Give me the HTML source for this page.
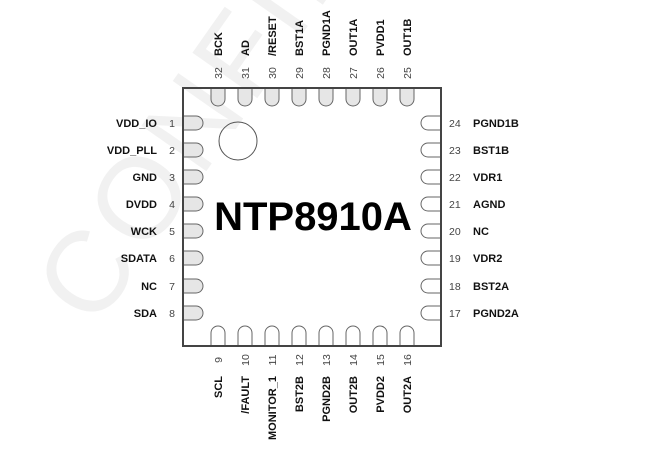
<!DOCTYPE html>
<html><head><style>
html,body{margin:0;padding:0;background:#fff;}
svg{display:block;}
.lb{font-family:"Liberation Sans",sans-serif;font-weight:bold;font-size:11px;fill:#111;}
.nm{font-family:"Liberation Sans",sans-serif;font-size:10.5px;fill:#444;}
</style></head><body>
<svg width="670" height="469" viewBox="0 0 670 469" xmlns="http://www.w3.org/2000/svg">
<text x="0" y="0" transform="translate(95,330) rotate(-55)" style="font-family:'Liberation Sans',sans-serif;font-size:115px;fill:#f1f1f1;letter-spacing:6px">CONFIDENTIAL</text>
<rect x="183" y="88" width="258" height="258" fill="none" stroke="#444" stroke-width="2"/>
<circle cx="238" cy="141" r="19" fill="none" stroke="#555" stroke-width="1"/>
<text x="313" y="230" text-anchor="middle" style="font-family:'Liberation Sans',sans-serif;font-weight:bold;font-size:40px;fill:#000">NTP8910A</text>
<g fill="#e6e6e6" stroke="#666" stroke-width="1">
<path d="M211,89V99A7,7 0 0 0 225,99V89"/>
<path d="M238,89V99A7,7 0 0 0 252,99V89"/>
<path d="M265,89V99A7,7 0 0 0 279,99V89"/>
<path d="M292,89V99A7,7 0 0 0 306,99V89"/>
<path d="M319,89V99A7,7 0 0 0 333,99V89"/>
<path d="M346,89V99A7,7 0 0 0 360,99V89"/>
<path d="M373,89V99A7,7 0 0 0 387,99V89"/>
<path d="M400,89V99A7,7 0 0 0 414,99V89"/>
<path d="M184,116H196A7,7 0 0 1 196,130H184"/>
<path d="M184,143H196A7,7 0 0 1 196,157H184"/>
<path d="M184,170H196A7,7 0 0 1 196,184H184"/>
<path d="M184,197H196A7,7 0 0 1 196,211H184"/>
<path d="M184,224H196A7,7 0 0 1 196,238H184"/>
<path d="M184,251H196A7,7 0 0 1 196,265H184"/>
<path d="M184,279H196A7,7 0 0 1 196,293H184"/>
<path d="M184,306H196A7,7 0 0 1 196,320H184"/>
</g>
<g fill="#fff" stroke="#666" stroke-width="1">
<path d="M440,116H428A7,7 0 0 0 428,130H440"/>
<path d="M440,143H428A7,7 0 0 0 428,157H440"/>
<path d="M440,170H428A7,7 0 0 0 428,184H440"/>
<path d="M440,197H428A7,7 0 0 0 428,211H440"/>
<path d="M440,224H428A7,7 0 0 0 428,238H440"/>
<path d="M440,251H428A7,7 0 0 0 428,265H440"/>
<path d="M440,279H428A7,7 0 0 0 428,293H440"/>
<path d="M440,306H428A7,7 0 0 0 428,320H440"/>
<path d="M211,345V333A7,7 0 0 1 225,333V345"/>
<path d="M238,345V333A7,7 0 0 1 252,333V345"/>
<path d="M265,345V333A7,7 0 0 1 279,333V345"/>
<path d="M292,345V333A7,7 0 0 1 306,333V345"/>
<path d="M319,345V333A7,7 0 0 1 333,333V345"/>
<path d="M346,345V333A7,7 0 0 1 360,333V345"/>
<path d="M373,345V333A7,7 0 0 1 387,333V345"/>
<path d="M400,345V333A7,7 0 0 1 414,333V345"/>
</g>
<g class="lb">
<text transform="translate(222,56) rotate(-90)">BCK</text>
<text transform="translate(249,56) rotate(-90)">AD</text>
<text transform="translate(276,56) rotate(-90)">/RESET</text>
<text transform="translate(303,56) rotate(-90)">BST1A</text>
<text transform="translate(330,56) rotate(-90)">PGND1A</text>
<text transform="translate(357,56) rotate(-90)">OUT1A</text>
<text transform="translate(384,56) rotate(-90)">PVDD1</text>
<text transform="translate(411,56) rotate(-90)">OUT1B</text>
</g>
<g class="nm" text-anchor="middle">
<text transform="translate(222,73) rotate(-90)">32</text>
<text transform="translate(249,73) rotate(-90)">31</text>
<text transform="translate(276,73) rotate(-90)">30</text>
<text transform="translate(303,73) rotate(-90)">29</text>
<text transform="translate(330,73) rotate(-90)">28</text>
<text transform="translate(357,73) rotate(-90)">27</text>
<text transform="translate(384,73) rotate(-90)">26</text>
<text transform="translate(411,73) rotate(-90)">25</text>
</g>
<g class="nm" text-anchor="middle">
<text transform="translate(222,360) rotate(-90)">9</text>
<text transform="translate(249,360) rotate(-90)">10</text>
<text transform="translate(276,360) rotate(-90)">11</text>
<text transform="translate(303,360) rotate(-90)">12</text>
<text transform="translate(330,360) rotate(-90)">13</text>
<text transform="translate(357,360) rotate(-90)">14</text>
<text transform="translate(384,360) rotate(-90)">15</text>
<text transform="translate(411,360) rotate(-90)">16</text>
</g>
<g class="lb" text-anchor="end">
<text transform="translate(222,376) rotate(-90)">SCL</text>
<text transform="translate(249,376) rotate(-90)">/FAULT</text>
<text transform="translate(276,376) rotate(-90)">MONITOR_1</text>
<text transform="translate(303,376) rotate(-90)">BST2B</text>
<text transform="translate(330,376) rotate(-90)">PGND2B</text>
<text transform="translate(357,376) rotate(-90)">OUT2B</text>
<text transform="translate(384,376) rotate(-90)">PVDD2</text>
<text transform="translate(411,376) rotate(-90)">OUT2A</text>
</g>
<g class="lb" text-anchor="end">
<text x="157" y="127">VDD_IO</text>
<text x="157" y="154">VDD_PLL</text>
<text x="157" y="181">GND</text>
<text x="157" y="208">DVDD</text>
<text x="157" y="235">WCK</text>
<text x="157" y="262">SDATA</text>
<text x="157" y="290">NC</text>
<text x="157" y="317">SDA</text>
</g>
<g class="nm" text-anchor="middle">
<text x="172" y="127">1</text><text x="172" y="154">2</text><text x="172" y="181">3</text><text x="172" y="208">4</text>
<text x="172" y="235">5</text><text x="172" y="262">6</text><text x="172" y="290">7</text><text x="172" y="317">8</text>
</g>
<g class="nm">
<text x="449" y="127">24</text><text x="449" y="154">23</text><text x="449" y="181">22</text><text x="449" y="208">21</text>
<text x="449" y="235">20</text><text x="449" y="262">19</text><text x="449" y="290">18</text><text x="449" y="317">17</text>
</g>
<g class="lb">
<text x="473" y="127">PGND1B</text>
<text x="473" y="154">BST1B</text>
<text x="473" y="181">VDR1</text>
<text x="473" y="208">AGND</text>
<text x="473" y="235">NC</text>
<text x="473" y="262">VDR2</text>
<text x="473" y="290">BST2A</text>
<text x="473" y="317">PGND2A</text>
</g>
</svg>
</body></html>
